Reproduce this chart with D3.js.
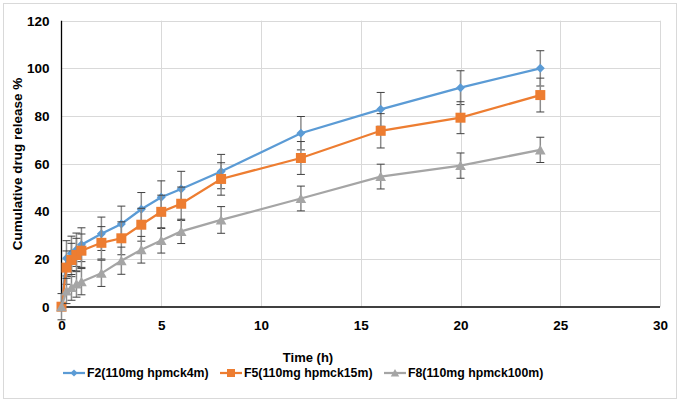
<!DOCTYPE html>
<html>
<head>
<meta charset="utf-8">
<script src="https://cdn.jsdelivr.net/npm/d3@7"></script>
<style>
  body { margin: 0; background: #fff; }
  text { font-family: "Liberation Sans", Arial, sans-serif; font-weight: bold; fill: #000; }
</style>
</head>
<body>
<svg width="683" height="404"></svg>
<script>
// sampling times (h)
var times = [0, 0.25, 0.5, 0.75, 1, 2, 3, 4, 5, 6, 8, 12, 16, 20, 24];

// cumulative release % per formulation
var f2 = [0, 20.3, 22.4, 23.9, 26.0, 30.6, 34.7, 40.9, 45.9, 49.4, 56.7, 72.8, 82.8, 91.9, 100.0];
var f5 = [0, 16.4, 19.6, 21.7, 23.5, 26.8, 28.7, 34.4, 39.8, 43.2, 53.6, 62.4, 73.8, 79.3, 88.8];
var f8 = [0, 6.6, 8.1, 9.5, 10.5, 14.0, 19.3, 23.9, 27.8, 31.6, 36.4, 45.4, 54.6, 59.2, 65.8];

// standard deviations
var f2Err = [0, 7.4, 7.2, 7.0, 7.1, 7.0, 7.5, 7.0, 6.9, 7.4, 7.2, 7.0, 7.1, 7.1, 7.4];
var f5Err = [0, 7.0, 7.0, 7.0, 7.0, 6.8, 6.9, 6.9, 7.0, 7.0, 6.8, 6.9, 7.2, 6.7, 7.1];
var f8Err = [5.5, 5.3, 5.4, 5.5, 5.5, 5.5, 5.7, 5.6, 5.3, 5.1, 5.6, 5.2, 5.2, 5.3, 5.3];

var seriesNames = ['F2(110mg hpmck4m)', 'F5(110mg hpmck15m)', 'F8(110mg hpmck100m)'];
var xTicks = [0, 5, 10, 15, 20, 25, 30];
var yTicks = [0, 20, 40, 60, 80, 100, 120];

var svg = d3.select('svg');

// outer chart border
svg.append('rect')
    .attr('x', 3.5).attr('y', 3.5)
    .attr('width', 673).attr('height', 395)
    .attr('fill', '#fff')
    .attr('stroke', '#d9d9d9');

var x = d3.scaleLinear().domain([0, 30]).range([61.5, 660]);
var y = d3.scaleLinear().domain([0, 120]).range([306.7, 20.7]);

var series = [
  {name: seriesNames[0], values: f2, err: f2Err, color: '#5b9bd5', shape: 'diamond'},
  {name: seriesNames[1], values: f5, err: f5Err, color: '#ed7d31', shape: 'square'},
  {name: seriesNames[2], values: f8, err: f8Err, color: '#a5a5a5', shape: 'triangle'}
];

// gridlines
var grid = svg.append('g').attr('class', 'grid');
grid.selectAll('.hgrid')
    .data(yTicks.slice(1))
    .enter().append('line')
    .attr('x1', x(0)).attr('x2', x(30))
    .attr('y1', function(d) { return Math.round(y(d)) + 0.5; })
    .attr('y2', function(d) { return Math.round(y(d)) + 0.5; })
    .attr('stroke', '#d9d9d9');
grid.selectAll('.vgrid')
    .data(xTicks.slice(1))
    .enter().append('line')
    .attr('x1', function(d) { return Math.round(x(d)) + 0.5; })
    .attr('x2', function(d) { return Math.round(x(d)) + 0.5; })
    .attr('y1', y(0)).attr('y2', y(120))
    .attr('stroke', '#d9d9d9');

// axes (labels only, lines drawn below)
var yAxis = svg.append('g')
    .attr('transform', 'translate(' + x(0) + ',0)')
    .call(d3.axisLeft(y).tickValues(yTicks).tickSize(0).tickPadding(12));
yAxis.select('.domain').remove();
yAxis.selectAll('text').style('font-size', '13.5px').attr('font-family', null);

var xAxis = svg.append('g')
    .attr('transform', 'translate(0,' + y(0) + ')')
    .call(d3.axisBottom(x).tickValues(xTicks).tickSize(0).tickPadding(14));
xAxis.select('.domain').remove();
xAxis.selectAll('text').style('font-size', '13.5px').attr('font-family', null);

svg.append('line')
    .attr('x1', 61.5).attr('x2', 61.5)
    .attr('y1', y(120)).attr('y2', 307)
    .attr('stroke', '#000').attr('stroke-width', 1.3);
svg.append('line')
    .attr('x1', 61).attr('x2', x(30))
    .attr('y1', 307).attr('y2', 307)
    .attr('stroke', '#000').attr('stroke-width', 1.3);

function markerPath(shape) {
  if (shape === 'diamond') return 'M0,-4.5L4.5,0L0,4.5L-4.5,0Z';
  if (shape === 'square') return 'M-5,-5H5V5H-5Z';
  return 'M0,-5L5.3,4.5H-5.3Z';
}

var line = d3.line()
    .x(function(d) { return x(d.t); })
    .y(function(d) { return y(d.v); });

series.forEach(function(s) {
  var pts = times.map(function(t, i) { return {t: t, v: s.values[i], e: s.err[i]}; });
  var g = svg.append('g').attr('class', 'series');

  var bars = g.selectAll('.err')
      .data(pts.filter(function(d) { return d.e > 0; }))
      .enter().append('g').attr('class', 'err');
  bars.append('line')
      .attr('x1', function(d) { return x(d.t); })
      .attr('x2', function(d) { return x(d.t); })
      .attr('y1', function(d) { return y(d.v + d.e); })
      .attr('y2', function(d) { return y(d.v - d.e); })
      .attr('stroke', '#8c8c8c').attr('stroke-width', 1.5);
  bars.selectAll('.cap')
      .data(function(d) { return [{t: d.t, v: d.v + d.e}, {t: d.t, v: d.v - d.e}]; })
      .enter().append('line')
      .attr('x1', function(d) { return x(d.t) - 4; })
      .attr('x2', function(d) { return x(d.t) + 4; })
      .attr('y1', function(d) { return y(d.v); })
      .attr('y2', function(d) { return y(d.v); })
      .attr('stroke', '#404040').attr('stroke-width', 1);

  g.append('path')
      .datum(pts)
      .attr('d', line)
      .attr('fill', 'none')
      .attr('stroke', s.color)
      .attr('stroke-width', 2.25);

  g.selectAll('.pt')
      .data(pts)
      .enter().append('path')
      .attr('d', markerPath(s.shape))
      .attr('transform', function(d) { return 'translate(' + x(d.t) + ',' + y(d.v) + ')'; })
      .attr('fill', s.color);
});

// axis titles
svg.append('text')
    .attr('x', 308).attr('y', 362)
    .attr('text-anchor', 'middle')
    .style('font-size', '13px')
    .text('Time (h)');
svg.append('text')
    .attr('transform', 'translate(22,164) rotate(-90)')
    .attr('text-anchor', 'middle')
    .style('font-size', '13.5px')
    .text('Cumulative drug release %');

// legend
var legendX = [63, 220, 384];
var legend = svg.selectAll('.legend')
    .data(series)
    .enter().append('g')
    .attr('class', 'legend')
    .attr('transform', function(d, i) { return 'translate(' + legendX[i] + ',373)'; });
legend.append('line')
    .attr('x1', 0).attr('x2', 22)
    .attr('stroke', function(d) { return d.color; })
    .attr('stroke-width', 2.25);
legend.append('path')
    .attr('d', function(d) { return markerPath(d.shape); })
    .attr('transform', 'translate(11,0) scale(0.8)')
    .attr('fill', function(d) { return d.color; });
legend.append('text')
    .attr('x', 24).attr('dy', '0.35em')
    .style('font-size', '12.3px')
    .text(function(d) { return d.name; });
</script>
</body>
</html>
